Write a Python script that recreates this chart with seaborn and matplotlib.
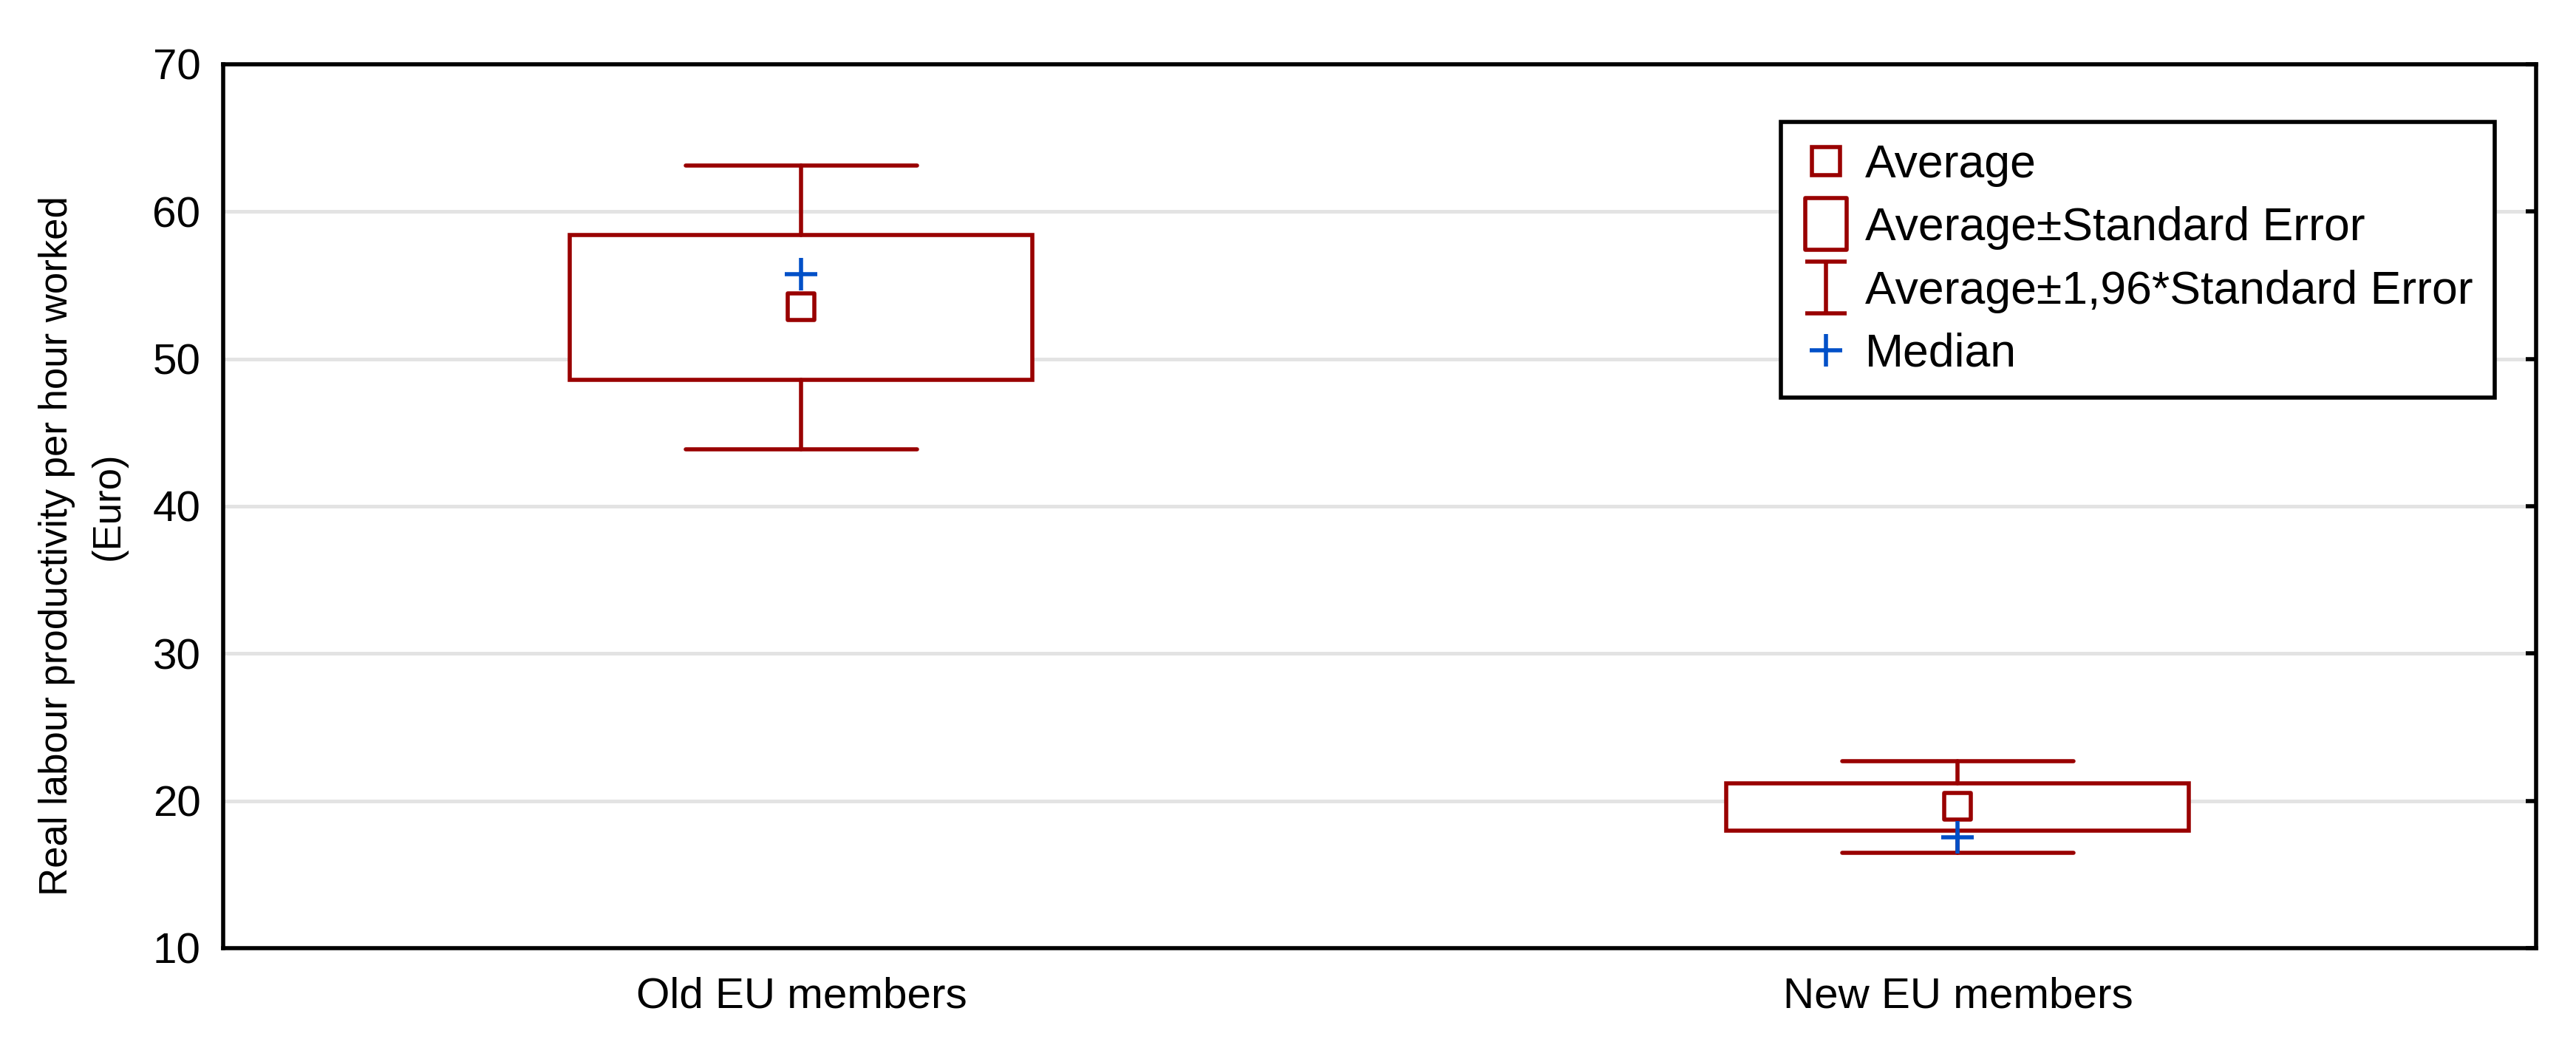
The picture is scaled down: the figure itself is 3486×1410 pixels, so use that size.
import numpy as np
import matplotlib.pyplot as plt
from matplotlib.lines import Line2D
from matplotlib.path import Path
import seaborn as sns

# values
groups = ['Old EU members', 'New EU members']
average = [53.55, 19.65]
se_low = [48.6, 17.98]
se_high = [58.43, 21.19]
ci_low = [43.85, 16.46]
ci_high = [63.14, 22.69]
median = [55.74, 17.53]

y_ticks = [10, 20, 30, 40, 50, 60, 70]
y_label = 'Real labour productivity per hour worked'
y_unit = '(Euro)'
legend_labels = ['Average', 'Average±Standard Error',
                 'Average±1,96*Standard Error', 'Median']

RED = '#990000'
BLUE = '#0050c8'
LW = 2.0


def main() -> None:
    sns.set_theme(style='white', rc={
        'axes.edgecolor': 'black',
        'axes.linewidth': LW,
        'text.color': 'black',
        'axes.labelcolor': 'black',
        'xtick.color': 'black',
        'ytick.color': 'black',
    })
    plt.rcParams['font.family'] = ['Liberation Sans', 'DejaVu Sans']

    fig, ax = plt.subplots(figsize=(17.435, 7.05), dpi=200)
    fig.subplots_adjust(left=0.0866, right=0.9842, bottom=0.0901, top=0.9383)

    pos = np.arange(len(groups))
    stats = [dict(med=m, q1=lo, q3=hi, whislo=wl, whishi=wh)
             for m, lo, hi, wl, wh in zip(average, se_low, se_high, ci_low, ci_high)]
    ax.bxp(stats, positions=pos, widths=0.4, capwidths=0.2, patch_artist=True,
           showfliers=False, zorder=2,
           boxprops=dict(facecolor='white', edgecolor=RED, linewidth=LW),
           whiskerprops=dict(color=RED, linewidth=LW),
           capprops=dict(color=RED, linewidth=LW),
           medianprops=dict(visible=False))

    sns.scatterplot(x=pos, y=average, marker='s', s=13 ** 2, color='white',
                    edgecolor=RED, linewidth=2.0, zorder=3, ax=ax, legend=False)
    sns.scatterplot(x=pos, y=median, marker='+', s=15.5 ** 2, color=BLUE,
                    linewidth=2.0, zorder=4, ax=ax, legend=False)

    ax.set_xlim(-0.5, 1.5)
    ax.set_ylim(y_ticks[0], y_ticks[-1])
    ax.set_xticks(pos, groups)
    ax.set_yticks(y_ticks)
    ax.set_axisbelow(True)
    ax.yaxis.grid(True, color='#e3e3e3', linewidth=1.8)
    ax.xaxis.grid(False)
    ax.tick_params(axis='both', direction='in', length=5, width=LW,
                   labelsize=21, top=False, right=True)
    ax.tick_params(axis='x', pad=14)
    ax.tick_params(axis='y', pad=11)
    for sp in ax.spines.values():
        sp.set_visible(True)
        sp.set_color('black')
        sp.set_linewidth(LW)

    # two-line axis label: the reference centres the lines slightly differently
    ax.set_ylabel(y_label, fontsize=19)
    ax.yaxis.set_label_coords(-0.0639, 0.455)
    ax.text(-0.0415, 0.5, y_unit, transform=ax.transAxes, rotation=90,
            fontsize=19, ha='center', va='bottom', rotation_mode='anchor')

    rect = Path([(-0.4, -0.5), (0.4, -0.5), (0.4, 0.5), (-0.4, 0.5), (-0.4, -0.5)],
                [Path.MOVETO, Path.LINETO, Path.LINETO, Path.LINETO, Path.CLOSEPOLY])
    ibar = Path([(-0.4, 0.5), (0.4, 0.5), (0, 0.5), (0, -0.5), (-0.4, -0.5), (0.4, -0.5)],
                [Path.MOVETO, Path.LINETO, Path.MOVETO, Path.LINETO, Path.MOVETO, Path.LINETO])
    handles = [
        Line2D([], [], ls='none', marker='s', ms=14, mfc='white', mec=RED, mew=2.0),
        Line2D([], [], ls='none', marker=rect, ms=25, mfc='white', mec=RED, mew=2.0),
        Line2D([], [], ls='none', marker=ibar, ms=25, mfc='none', mec=RED, mew=2.0),
        Line2D([], [], ls='none', marker='+', ms=15.5, mec=BLUE, mew=2.0),
    ]
    leg = ax.legend(handles, legend_labels, loc='upper left',
                    bbox_to_anchor=(0.6735, 0.935), borderaxespad=0,
                    fontsize=22.5, frameon=True, fancybox=False, framealpha=1,
                    borderpad=0.47, handlelength=1.0, handletextpad=0.35,
                    labelspacing=0.42)
    leg.get_frame().set_edgecolor('black')
    leg.get_frame().set_linewidth(LW)

    fig.savefig('out.png', dpi=200)


if __name__ == '__main__':
    main()
